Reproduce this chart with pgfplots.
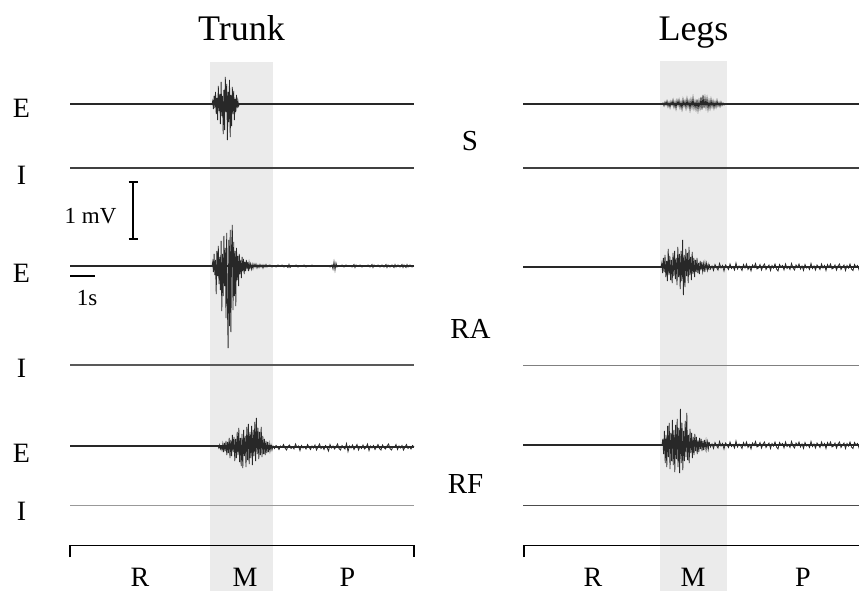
\documentclass[border=0pt]{standalone}
\usepackage{pgfplots}
\pgfplotsset{compat=1.18}
\usepackage{pgfplotstable}
\usepackage{fontspec}
\setmainfont{Liberation Serif}
\definecolor{shade}{RGB}{235,235,235}
\definecolor{trace}{RGB}{40,40,40}
\tikzset{
  lbl/.style={font=\fontsize{28}{30}\selectfont, anchor=base, inner sep=0pt},
  mus/.style={font=\fontsize{29}{31}\selectfont, anchor=base, inner sep=0pt},
  ttl/.style={font=\fontsize{36}{38}\selectfont, anchor=base, inner sep=0pt},
  sml/.style={font=\fontsize{23}{25}\selectfont, anchor=base, inner sep=0pt},
}

% Trunk, E trace of S (baseline y=104)
\pgfplotstableread{
x v
212 0
212.7 -3
213.4 5
214.1 -8
214.8 4
215.5 -12
216.2 10
216.9 -6
217.6 16
218.3 -18
219 7
219.7 -10
220.4 20
221.1 -22
221.8 12
222.5 -8
223.2 30
223.9 -14
224.6 26
225.3 -27
226 8
226.7 -20
227.4 36
228.1 -12
228.8 18
229.5 -24
230.2 33
230.9 -9
231.6 22
232.3 -17
233 10
233.7 -13
234.4 16
235.1 -5
235.8 8
236.5 -9
237.2 4
237.9 -3
238.6 2
239.3 0
}\tEa

% Trunk, E trace of RA (baseline y=266)
\pgfplotstableread{
x v
212 0
212.7 -4
213.4 6
214.1 -12
214.8 9
215.5 -6
216.2 28
216.9 -15
217.6 10
218.3 -20
219 18
219.7 -9
220.4 24
221.1 -25
221.8 45
222.5 -12
223.2 30
223.9 -30
224.6 20
225.3 -18
226 52
226.7 -33
227.4 38
228.1 82
228.8 -26
229.5 60
230.2 -36
230.9 66
231.6 -20
232.3 -41
233 44
233.7 -24
234.4 30
235.1 -15
235.8 40
236.5 -18
237.2 14
237.9 -10
238.6 20
239.3 -12
240 8
240.7 -6
241.4 12
242.1 -9
242.8 5
243.5 -7
244.2 8
244.9 -4
245.6 5
246.3 -6
247 3
247.7 -4
248.4 5
249.1 -3
249.8 2
250.6 -2
251.4 3
252.2 -1.5
253 2.5
254 -2
255 1
256 -2
257 2
258 -1
259 1.5
260 -1.5
261 1
262 -1
263 2
264 -1
265 1
266 -1.5
267 1
268 -0.5
270 -1
272 1
274 -0.5
276 1
278 -1
280 0.5
282 -1
284 1
286 -0.5
288 1.5
289 -1.5
290 1.5
292 -0.5
294 0.5
296 -1
298 1
300 -0.5
302 0.5
304 -1
306 1
308 -0.5
310 0.5
312 -1
314 0.5
316 -0.5
318 0.5
320 -0.5
322 0.5
324 -0.5
326 0.5
328 -0.5
330 1
332 -1
333 3
334 -4
335 4
336 -3
337 1
338 -0.5
340 0.5
342 -1
344 1
346 -1
348 0.5
350 -0.5
352 1
354 -1.5
355 1.5
356 -1
358 0.5
360 -1
362 1
364 -0.5
366 0.5
368 -1
370 1
372 -1.5
373 1.5
374 -1
376 0.5
378 -1
380 1
382 -1
384 1
386 -1.5
387 1.5
388 -1
390 1
392 -1
394 1.5
395 -1.5
396 1
398 -1
400 1
402 -1.5
403 1.5
404 -1
406 1.5
407 -1.5
408 1
410 -1
412 1
414 0
}\tEb

% Trunk, E trace of RF (baseline y=446)
\pgfplotstableread{
x v
218 0
218.8 2
219.6 -1
220.4 3
221.2 1
222 4
222.8 -2
223.6 6
224.4 -3
225.2 5
226 -5
226.8 9
227.6 -4
228.4 7
229.2 -8
230 12
230.8 -6
231.6 10
232.4 -11
233.2 6
234 -9
234.8 15
235.6 -7
236.4 12
237.2 -14
238 9
238.8 -18
239.6 16
240.4 -8
241.2 20
242 -12
242.8 22
243.6 -16
244.4 10
245.2 -10
246 21
246.8 -19
247.6 14
248.4 -22
249.2 18
250 -14
250.8 12
251.6 -20
252.4 19
253.2 -16
254 10
254.8 -24
255.6 15
256.4 -28
257.2 8
258 -18
258.8 13
259.6 -14
260.4 9
261.2 -19
262 11
262.8 -10
263.6 8
264.4 -7
265.2 9
266 -5
266.8 7
267.6 -4
268.4 6
269.2 -2
270 5
271 -1
272 4
273 0
274.5 2.5
276 -0.5
277.5 1
279 3.5
280.5 0
282 1.5
283.5 -1.5
285 2
286.5 4
288 0.5
289.5 -1
291 2.5
292.5 1
294 3
295.5 -2
297 1.5
298.5 0
300 4.5
301.5 -0.5
303 2
304.5 0.5
306 3
307.5 -1.5
309 1
310.5 3.5
312 0
313.5 2
315 -1
316.5 4
318 1
319.5 -2
321 2.5
322.5 0.5
324 3.5
325.5 -0.5
327 1.5
328.5 5
330 -1.5
331.5 2
333 0
334.5 3
336 1
337.5 -2
339 2.5
340.5 4
342 -0.5
343.5 1.5
345 3
346.5 -2.5
348 5.5
349.5 0
351 2
352.5 -1
354 3.5
355.5 1
357 -1.5
358.5 4
360 0.5
361.5 2.5
363 -1
364.5 3
366 1.5
367.5 -2
369 4.5
370.5 0
372 2
373.5 -0.5
375 3.5
376.5 1
378 -1.5
379.5 2.5
381 4
382.5 -1
384 1.5
385.5 3
387 0
388.5 -2
390 2.5
391.5 4
393 0.5
394.5 1.5
396 -1.5
397.5 3.5
399 0
400.5 2
402 -0.5
403.5 4
405 1
406.5 -1.5
408 2.5
409.5 0.5
411 3
412.5 -0.5
414 1
}\tEc

% Legs, E trace of S (baseline y=104)
\pgfplotstableread{
x v
662 0
663 -1
664 2
665 -2
666 1
667 -3
668 2.5
669 -1.5
670 3.5
671 -2.5
672 1
673 -4
674 3
675 -2
676 4.5
677 -3.5
678 1.5
679 -4
680 3.5
681 -2
682 5
683 -4.5
684 2
685 -3
686 4
687 -5
688 2.5
689 -3
690 5.5
691 -4
692 3
693 -6
694 4
695 -2.5
696 5
697 -4.5
698 6
699 -3
700 4
701 -7
702 5.5
703 -9
704 4
705 -6
706 3
707 -5.5
708 5
709 -3
710 4
711 -4.5
712 2.5
713 -3
714 4
715 -2
716 3
717 -3.5
718 2
719 -1.5
720 2.5
721 -2
722 1.5
723 -1
724 1
725 0
}\lEa

% Legs, E trace of RA (baseline y=267)
\pgfplotstableread{
x v
661 0
661.8 -4
662.6 6
663.4 -9
664.2 5
665 -12
665.8 10
666.6 -6
667.4 14
668.2 -18
669 8
669.8 -11
670.6 13
671.4 -7
672.2 16
673 -14
673.8 9
674.6 -16
675.4 12
676.2 -9
677 18
677.8 -20
678.6 10
679.4 -13
680.2 22
681 -16
681.8 14
682.6 -27
683.4 28
684.2 -12
685 20
685.8 -18
686.6 9
687.4 -14
688.2 16
689 -20
689.8 8
690.6 -10
691.4 13
692.2 -15
693 7
693.8 -9
694.6 10
695.4 -7
696.2 5
697 -9
697.8 6
698.6 -4
699.4 7
700.2 -6
701 3
701.8 -5
702.6 4
703.4 -3
704.2 5
705 -4
705.8 2
706.6 -3.5
707.4 3
708.2 -2
709 3
}\lEb

% Legs, E trace of RF (baseline y=445)
\pgfplotstableread{
x v
662 0
662.8 -6
663.6 9
664.4 -14
665.2 18
666 -10
666.8 22
667.6 -19
668.4 12
669.2 -22
670 24
670.8 -12
671.6 16
672.4 -25
673.2 20
674 -15
674.8 27
675.6 -20
676.4 14
677.2 -26
678 22
678.8 -17
679.6 28
680.4 -36
681.2 18
682 -22
682.8 25
683.6 -14
684.4 16
685.2 -24
686 12
686.8 -32
687.6 15
688.4 -10
689.2 18
690 -16
690.8 8
691.6 -12
692.4 13
693.2 -8
694 10
694.8 -11
695.6 6
696.4 -8
697.2 9
698 -5
698.8 7
699.6 -7
700.4 4
701.2 -6
702 6
702.8 -4
703.6 5
704.4 -5
705.2 3
706 -4
706.8 4
707.6 -3
708.4 3.5
709 -3
}\lEc

% Legs, post-movement activity of the E traces
\pgfplotstableread{
x v
709 -3
710.5 2
712 -1
713.5 3.5
715 -2.5
716.5 0.5
718 3
719.5 -3.5
721 1
722.5 -1.5
724 4
725.5 -2
727 0
728.5 2.5
730 -3
731.5 1.5
733 -0.5
734.5 3
736 -4
737.5 2
739 -1
740.5 0.5
742 3.5
743.5 -2.5
745 1
746.5 -3
748 2.5
749.5 -0.5
751 4
752.5 -2
754 0.5
755.5 -3.5
757 2
758.5 1
760 -2.5
761.5 3
763 -1
764.5 -3
766 2.5
767.5 0
769 -2
770.5 3.5
772 -1.5
773.5 1
775 -3
776.5 2
778 4
779.5 -2.5
781 0
782.5 -1.5
784 3
785.5 -3
787 1.5
788.5 -0.5
790 2.5
791.5 -3.5
793 1
794.5 3
796 -2
797.5 0.5
799 -3
800.5 2
802 -1
803.5 3.5
805 -2.5
806.5 1
808 -0.5
809.5 2.5
811 -3.5
812.5 1.5
814 -1
815.5 3
817 -2
818.5 0
820 2.5
821.5 -3
823 1
824.5 -1.5
826 3.5
827.5 -2.5
829 0.5
830.5 -3
832 2
833.5 1
835 -2
836.5 3
838 -1
839.5 -3
841 2.5
842.5 0
844 -2
845.5 3.5
847 -1.5
848.5 1
850 -3
851.5 2
853 3.5
854.5 -2.5
856 0
857.5 -1.5
859 3
860.5 -3
862 1.5
864 -1
866 2
868 0
}\ltail

\begin{document}
\begin{tikzpicture}
\begin{axis}[
  name=ax,
  scale only axis,
  width=859pt, height=591pt,
  xmin=0, xmax=859, ymin=0, ymax=591,
  y dir=reverse,
  hide axis,
  clip=true,
]
% shaded movement period
\addplot [fill=shade, draw=none] coordinates {(210,62) (273,62) (273,591) (210,591)} -- cycle;
\addplot [fill=shade, draw=none] coordinates {(660,61) (727,61) (727,591) (660,591)} -- cycle;

% I traces (flat)
\addplot [black!75, line width=1.3pt] coordinates {(70,168) (414,168)};
\addplot [black!65, line width=1.2pt] coordinates {(70,365) (414,365)};
\addplot [black!40, line width=1.2pt] coordinates {(70,505.5) (414,505.5)};
\addplot [black!75, line width=1.3pt] coordinates {(523,168) (868,168)};
\addplot [black!50, line width=1.2pt] coordinates {(523,365.5) (868,365.5)};
\addplot [black!70, line width=1.2pt] coordinates {(523,505.5) (868,505.5)};

% E baselines
\addplot [trace, line width=1.4pt] coordinates {(70,104) (414,104)};
\addplot [trace, line width=1.5pt] coordinates {(70,266) (414,266)};
\addplot [trace, line width=1.4pt] coordinates {(70,446) (272,446)};
\addplot [trace, line width=2.4pt] coordinates {(272,447) (414,447)};
\addplot [trace, line width=1.4pt] coordinates {(523,104) (868,104)};
\addplot [trace, line width=1.4pt] coordinates {(523,267) (709,267)};
\addplot [trace, line width=2.4pt] coordinates {(709,267) (868,267)};
\addplot [trace, line width=1.4pt] coordinates {(523,445) (709,445)};
\addplot [trace, line width=2.4pt] coordinates {(709,445) (868,445)};

% E activity
\addplot [trace, line width=0.8pt] table [x=x, y expr=\thisrow{v}+104] {\tEa};
\addplot [trace, line width=0.8pt] table [x=x, y expr=\thisrow{v}+266] {\tEb};
\addplot [trace, line width=0.8pt] table [x=x, y expr=\thisrow{v}+446] {\tEc};
\addplot [trace, line width=0.8pt] table [x=x, y expr=\thisrow{v}+104] {\lEa};
\addplot [trace, line width=0.8pt] table [x=x, y expr=\thisrow{v}+267] {\lEb};
\addplot [trace, line width=0.8pt] table [x=x, y expr=\thisrow{v}+267] {\ltail};
\addplot [trace, line width=0.8pt] table [x=x, y expr=\thisrow{v}+445] {\lEc};
\addplot [trace, line width=0.8pt] table [x=x, y expr=\thisrow{v}+445] {\ltail};

% phase brackets
\addplot [black, line width=1.4pt] coordinates {(70,557) (70,545.5) (414,545.5) (414,557)};
\addplot [black, line width=1.4pt] coordinates {(524,557) (524,545.5) (868,545.5) (868,557)};

% scale bars
\addplot [black, line width=1.2pt] coordinates {(133,182) (133,239)};
\addplot [black, line width=1.2pt] coordinates {(128.5,182) (137.5,182)};
\addplot [black, line width=1.2pt] coordinates {(128.5,239) (137.5,239)};
\addplot [black, line width=1.2pt] coordinates {(70,276) (95,276)};

% titles
\node [ttl] at (axis cs:241.5,40.5) {Trunk};
\node [ttl] at (axis cs:693.5,40.5) {Legs};

% E / I labels
\node [lbl] at (axis cs:21.5,118) {E};
\node [lbl] at (axis cs:21.5,184) {I};
\node [lbl] at (axis cs:21.5,282) {E};
\node [lbl] at (axis cs:21.5,377) {I};
\node [lbl] at (axis cs:21.5,462) {E};
\node [lbl] at (axis cs:21.5,520) {I};

% muscle labels
\node [mus] at (axis cs:470,150.5) {S};
\node [mus] at (axis cs:470.5,338) {RA};
\node [mus] at (axis cs:465.5,493) {RF};

% phase labels
\node [lbl] at (axis cs:140,586.5) {R};
\node [lbl] at (axis cs:245,586.5) {M};
\node [lbl] at (axis cs:347.5,586.5) {P};
\node [lbl] at (axis cs:593,586.5) {R};
\node [lbl] at (axis cs:693,586.5) {M};
\node [lbl] at (axis cs:803,586.5) {P};

% scale bar labels
\node [sml] at (axis cs:90.5,223) {1 mV};
\node [sml] at (axis cs:87,305) {1s};
\end{axis}
\pgfresetboundingbox
\path [use as bounding box] (ax.south west) rectangle (ax.north east);
\end{tikzpicture}
\end{document}
